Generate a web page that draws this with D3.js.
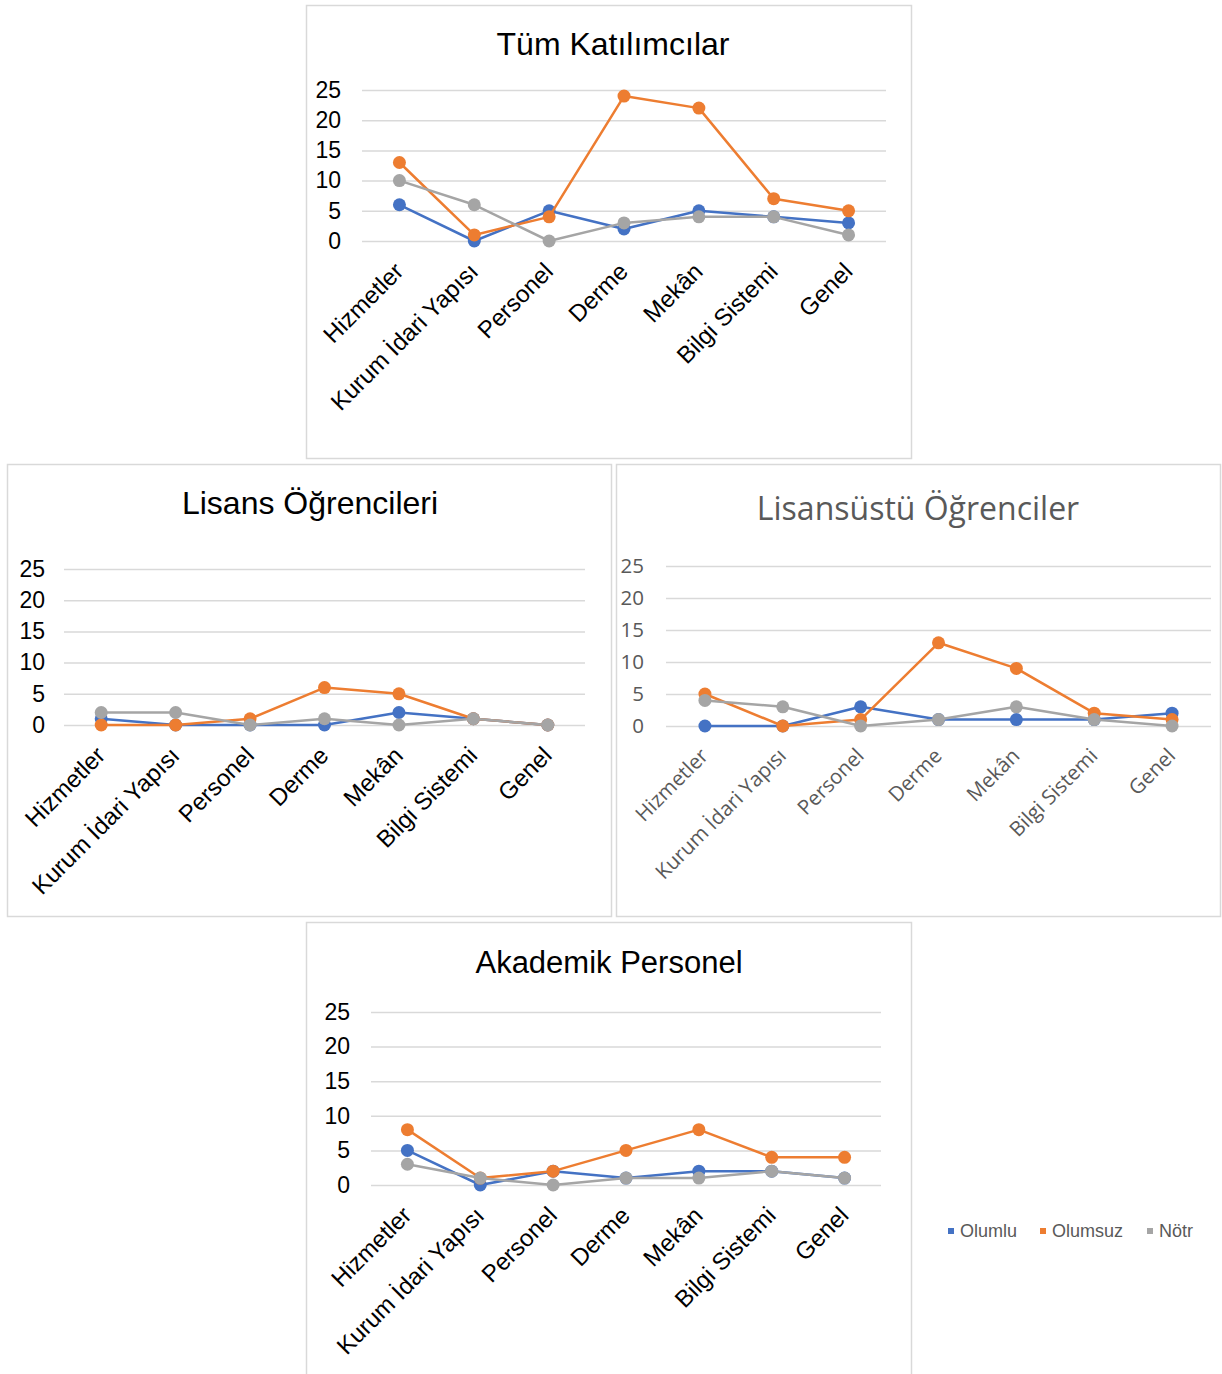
<!DOCTYPE html>
<html><head><meta charset="utf-8">
<script src="https://cdn.jsdelivr.net/npm/d3@7"></script>
<style>body{margin:0;background:#fff}svg{display:block}</style>
</head><body>
<svg id="c" width="1222" height="1374"></svg>
<script>
const categories = ["Hizmetler","Kurum İdari Yapısı","Personel","Derme","Mekân","Bilgi Sistemi","Genel"];
const seriesNames = ["Olumlu","Olumsuz","Nötr"];
const seriesColors = ["#4472C4","#ED7D31","#A5A5A5"];
const yTicks = [0,5,10,15,20,25];

const tumOlumlu = [6,0,5,2,5,4,3];
const tumOlumsuz = [13,1,4,24,22,7,5];
const tumNotr = [10,6,0,3,4,4,1];

const lisansOlumlu = [1,0,0,0,2,1,0];
const lisansOlumsuz = [0,0,1,6,5,1,0];
const lisansNotr = [2,2,0,1,0,1,0];

const lisansustuOlumlu = [0,0,3,1,1,1,2];
const lisansustuOlumsuz = [5,0,1,13,9,2,1];
const lisansustuNotr = [4,3,0,1,3,1,0];

const akademikOlumlu = [5,0,2,1,2,2,1];
const akademikOlumsuz = [8,1,2,5,8,4,4];
const akademikNotr = [3,1,0,1,1,2,1];

const svg = d3.select("#c");

const panels = [
  {title:"Tüm Katılımcılar", data:[tumOlumlu,tumOlumsuz,tumNotr],
   box:[306.5,5.5,605,453], titleX:613, titleY:55, titleFont:"Liberation Sans, Arial, sans-serif", titleSize:32, titleColor:"#000",
   x0:362, x1:886, yTop:90, yBot:241, tickX:341, font:"Liberation Sans, Arial, sans-serif", tickSize:23, labelSize:24, lab:[-1,26], textColor:"#000"},
  {title:"Lisans Öğrencileri", data:[lisansOlumlu,lisansOlumsuz,lisansNotr],
   box:[7.5,464.5,604,452], titleX:310, titleY:514, titleFont:"Liberation Sans, Arial, sans-serif", titleSize:32, titleColor:"#000",
   x0:64, x1:585, yTop:569, yBot:725, tickX:45, font:"Liberation Sans, Arial, sans-serif", tickSize:23, labelSize:24, lab:[-1,26], textColor:"#000"},
  {title:"Lisansüstü Öğrenciler", data:[lisansustuOlumlu,lisansustuOlumsuz,lisansustuNotr],
   box:[616.5,464.5,604,452], titleX:918, titleY:520, titleFont:"Open Sans, sans-serif", titleSize:32, titleColor:"#595959",
   x0:666, x1:1211, yTop:566, yBot:726, tickX:644, font:"Open Sans, sans-serif", tickSize:20.5, labelSize:20.5, lab:[-1,26], textColor:"#595959"},
  {title:"Akademik Personel", data:[akademikOlumlu,akademikOlumsuz,akademikNotr],
   box:[306.5,922.5,605,470], titleX:609, titleY:973, titleFont:"Liberation Sans, Arial, sans-serif", titleSize:31, titleColor:"#000",
   x0:371, x1:881, yTop:1012, yBot:1185, tickX:350, font:"Liberation Sans, Arial, sans-serif", tickSize:23, labelSize:24, lab:[-1,26], textColor:"#000"}
];

panels.forEach(p => {
  const g = svg.append("g");
  g.append("rect").attr("x",p.box[0]).attr("y",p.box[1]).attr("width",p.box[2]).attr("height",p.box[3])
    .attr("fill","#fff").attr("stroke","#d9d9d9").attr("stroke-width",1.5);
  g.append("text").attr("x",p.titleX).attr("y",p.titleY).attr("text-anchor","middle")
    .attr("font-family",p.titleFont).attr("font-size",p.titleSize).attr("fill",p.titleColor).text(p.title);

  const x = d3.scalePoint().domain(categories).range([p.x0,p.x1]).padding(0.5);
  const y = d3.scaleLinear().domain([0,25]).range([p.yBot,p.yTop]);

  const ya = g.append("g").attr("transform",`translate(${p.x0},0)`)
    .call(d3.axisLeft(y).tickValues(yTicks).tickSize(-(p.x1-p.x0)).tickPadding(p.x0-p.tickX).tickFormat(d3.format("d")));
  ya.select(".domain").remove();
  ya.selectAll(".tick line").attr("stroke","#d9d9d9").attr("stroke-width",1.5);
  ya.selectAll(".tick text").attr("font-family",p.font).attr("font-size",p.tickSize).attr("fill",p.textColor);

  const xa = g.append("g").attr("transform",`translate(0,${p.yBot})`)
    .call(d3.axisBottom(x).tickSize(0));
  xa.select(".domain").remove();
  xa.selectAll(".tick text")
    .attr("font-family",p.font).attr("font-size",p.labelSize).attr("fill",p.textColor)
    .attr("text-anchor","end")
    .attr("transform",`translate(${p.lab[0]},${p.lab[1]}) rotate(-45)`)
    .attr("y",0).attr("x",0).attr("dy","0.35em");

  const line = d3.line().x((d,i)=>x(categories[i])).y(d=>y(d));
  p.data.forEach((vals,si) => {
    const sg = g.append("g");
    sg.append("path").datum(vals).attr("d",line).attr("fill","none")
      .attr("stroke",seriesColors[si]).attr("stroke-width",2.5).attr("stroke-linejoin","round");
    sg.selectAll("circle").data(vals).join("circle")
      .attr("cx",(d,i)=>x(categories[i])).attr("cy",d=>y(d)).attr("r",6.5).attr("fill",seriesColors[si]);
  });
});

// legend
const legend = svg.append("g").attr("transform","translate(948,1231)");
const lx = [0,92,199];
seriesNames.forEach((n,i)=>{
  legend.append("rect").attr("x",lx[i]).attr("y",-3).attr("width",6).attr("height",6).attr("fill",seriesColors[i]);
  legend.append("text").attr("x",lx[i]+12).attr("y",0).attr("dy","0.35em")
    .attr("font-family","Liberation Sans, Arial, sans-serif").attr("font-size",18).attr("fill","#595959").text(n);
});
</script>
</body></html>
